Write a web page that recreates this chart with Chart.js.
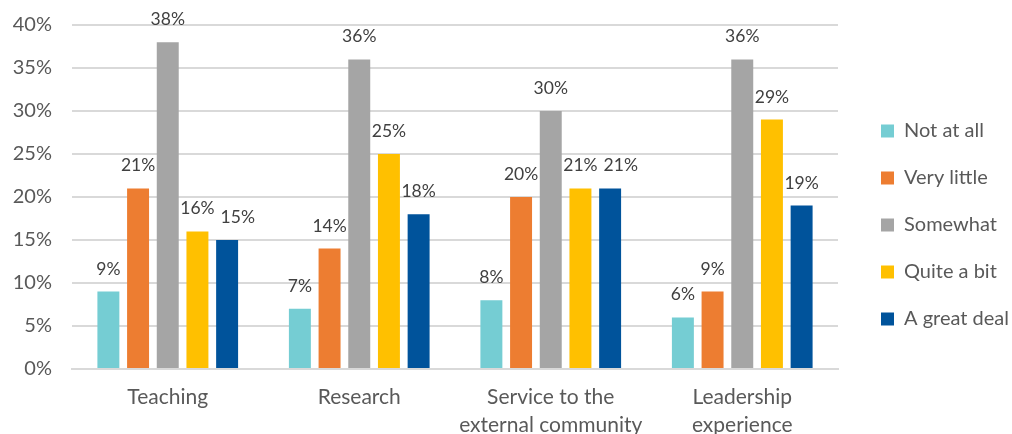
<!DOCTYPE html>
<html>
<head>
<meta charset="utf-8">
<script src="https://cdn.jsdelivr.net/npm/chart.js@4.4.1/dist/chart.umd.min.js"></script>
<style>
  html, body { margin: 0; padding: 0; background: #ffffff; overflow: hidden; }
  #wrap { position: relative; width: 1012px; height: 444px; }
</style>
</head>
<body>
<div id="wrap"><canvas id="c"></canvas></div>
<script>
const categories = ["Teaching", "Research", ["Service to the", "external community"], ["Leadership", "experience"]];
const seriesNames = ["Not at all", "Very little", "Somewhat", "Quite a bit", "A great deal"];
const notAtAll   = [9, 7, 8, 6];
const veryLittle = [21, 14, 20, 9];
const somewhat   = [38, 36, 30, 36];
const quiteABit  = [16, 25, 21, 29];
const greatDeal  = [15, 18, 21, 19];
const yTicks = [0, 5, 10, 15, 20, 25, 30, 35, 40];
const colors = ["#75CDD3", "#ED7D31", "#A5A5A5", "#FFC000", "#00539B"];

const seriesValues = [notAtAll, veryLittle, somewhat, quiteABit, greatDeal];
const FONT = "Lato, 'Open Sans', sans-serif";
const TEXT = "#595959";

// Data labels above bars; a label that collides with its left neighbour
// in the same category is nudged to the right (as the original does).
const labelPlugin = {
  id: 'barLabels',
  afterDatasetsDraw(chart) {
    const ctx = chart.ctx;
    ctx.save();
    ctx.font = "17.5px " + FONT;
    ctx.fillStyle = "#404040";
    ctx.textAlign = "center";
    ctx.textBaseline = "alphabetic";
    const nCat = chart.data.labels.length;
    const textH = 14, gap = 6;
    for (let j = 0; j < nCat; j++) {
      let prev = null;
      chart.data.datasets.forEach((ds, i) => {
        const bar = chart.getDatasetMeta(i).data[j];
        const txt = ds.data[j] + "%";
        const w = ctx.measureText(txt).width;
        let cx = bar.x;
        const y = bar.y - 17;
        if (prev && Math.abs(prev.y - y) < textH) {
          const minLeft = prev.right + gap;
          if (cx - w / 2 < minLeft) cx = minLeft + w / 2;
        }
        ctx.fillText(txt, cx, y);
        prev = { right: cx + w / 2, y: y };
      });
    }
    ctx.restore();
  }
};

new Chart(document.getElementById('c'), {
  type: 'bar',
  data: {
    labels: categories,
    datasets: seriesNames.map((n, i) => ({
      label: n,
      data: seriesValues[i],
      backgroundColor: colors[i],
      borderWidth: 0,
      categoryPercentage: 0.775,
      barPercentage: 0.74
    }))
  },
  options: {
    responsive: true,
    maintainAspectRatio: false,
    animation: false,
    layout: { padding: { left: 0, right: 0, top: 6, bottom: 0 } },
    plugins: {
      legend: {
        position: 'right',
        maxWidth: 158,
        labels: {
          boxWidth: 13,
          boxHeight: 13,
          padding: 27,
          color: TEXT,
          font: { size: 20, family: FONT }
        }
      },
      tooltip: { enabled: false }
    },
    scales: {
      x: {
        grid: { display: false, drawTicks: false },
        border: { display: true, color: "#D9D9D9", width: 2 },
        ticks: {
          color: TEXT,
          font: { size: 21, family: FONT, lineHeight: 1.3 },
          padding: 15,
          maxRotation: 0,
          autoSkip: false
        },
        afterFit: (s) => { s.height = 75; s.paddingLeft = 0; s.paddingRight = 0; }
      },
      y: {
        min: 0,
        max: 40,
        afterBuildTicks: (s) => { s.ticks = yTicks.map(v => ({ value: v })); },
        grid: { color: "#D9D9D9", lineWidth: 2, drawTicks: false },
        border: { display: false },
        ticks: {
          color: TEXT,
          font: { size: 20, family: FONT },
          padding: 20,
          callback: (v) => v + "%"
        },
        afterFit: (s) => { s.width = 72; s.paddingTop = 25; s.paddingBottom = 0; }
      },
      gap: {
        type: 'linear',
        position: 'right',
        display: true,
        grid: { display: false, drawTicks: false },
        border: { display: false },
        ticks: { display: false },
        afterFit: (s) => { s.width = 16; s.paddingTop = 0; s.paddingBottom = 0; }
      }
    }
  },
  plugins: [labelPlugin]
});
</script>
</body>
</html>
